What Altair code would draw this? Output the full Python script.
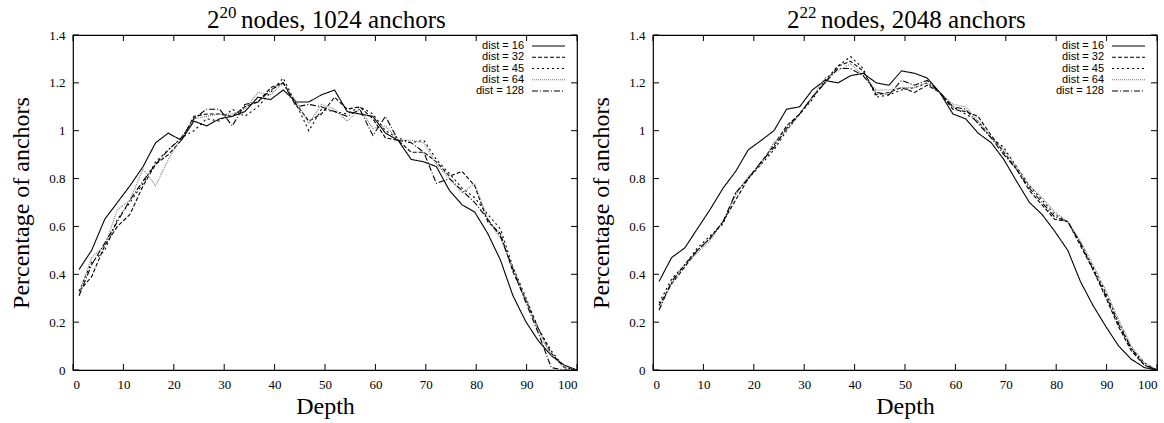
import altair as alt
import pandas as pd

# ---------------- data ----------------
depth = [1.2, 3.7, 6.3, 8.8, 11.3, 13.9, 16.4, 18.9, 21.5, 24.0,
         26.5, 29.1, 31.6, 34.1, 36.7, 39.2, 41.7, 44.3, 46.8, 49.3,
         51.9, 54.4, 56.9, 59.5, 62.0, 64.5, 67.1, 69.6, 72.1, 74.7,
         77.2, 79.7, 82.3, 84.8, 87.3, 89.9, 92.4, 94.9, 97.5, 100.0]

series_names = ["dist = 16", "dist = 32", "dist = 45", "dist = 64", "dist = 128"]

# left panel: 2^20 nodes, 1024 anchors
a_16 = [0.42, 0.50, 0.63, 0.70, 0.77, 0.85, 0.95, 0.99, 0.96, 1.04,
        1.02, 1.05, 1.06, 1.08, 1.14, 1.13, 1.17, 1.12, 1.12, 1.15,
        1.17, 1.08, 1.07, 1.06, 0.99, 0.96, 0.88, 0.87, 0.85, 0.75,
        0.69, 0.66, 0.57, 0.46, 0.31, 0.20, 0.12, 0.06, 0.02, 0.00]
a_32 = [0.33, 0.39, 0.52, 0.60, 0.65, 0.77, 0.86, 0.90, 0.96, 1.06,
        1.07, 1.07, 1.06, 1.10, 1.12, 1.18, 1.20, 1.11, 1.04, 1.07,
        1.14, 1.09, 1.10, 1.05, 0.97, 0.96, 0.91, 0.91, 0.87, 0.81,
        0.83, 0.77, 0.62, 0.57, 0.41, 0.29, 0.17, 0.07, 0.01, 0.00]
a_45 = [0.33, 0.45, 0.50, 0.63, 0.70, 0.78, 0.87, 0.92, 0.97, 1.00,
        1.05, 1.04, 1.09, 1.06, 1.10, 1.16, 1.22, 1.11, 1.00, 1.09,
        1.08, 1.07, 1.10, 1.07, 1.00, 0.97, 0.95, 0.96, 0.88, 0.82,
        0.76, 0.72, 0.65, 0.59, 0.43, 0.30, 0.17, 0.08, 0.01, 0.00]
a_64 = [0.32, 0.47, 0.52, 0.67, 0.71, 0.84, 0.77, 0.88, 0.97, 1.05,
        1.06, 1.07, 1.07, 1.09, 1.16, 1.15, 1.20, 1.12, 1.03, 1.11,
        1.09, 1.04, 1.09, 1.01, 1.02, 0.96, 0.96, 0.95, 0.86, 0.80,
        0.74, 0.78, 0.63, 0.55, 0.43, 0.29, 0.16, 0.06, 0.01, 0.00]
a_128 = [0.31, 0.44, 0.53, 0.62, 0.71, 0.79, 0.86, 0.92, 0.97, 1.05,
         1.09, 1.09, 1.02, 1.11, 1.12, 1.17, 1.20, 1.10, 1.11, 1.10,
         1.08, 1.06, 1.09, 0.98, 1.06, 0.96, 0.95, 0.91, 0.78, 0.80,
         0.75, 0.70, 0.63, 0.56, 0.42, 0.28, 0.15, 0.01, 0.00, 0.00]

# right panel: 2^22 nodes, 2048 anchors
b_16 = [0.37, 0.47, 0.51, 0.59, 0.67, 0.76, 0.83, 0.92, 0.96, 1.00,
        1.09, 1.10, 1.17, 1.21, 1.20, 1.23, 1.24, 1.20, 1.19, 1.25,
        1.24, 1.22, 1.16, 1.07, 1.05, 0.99, 0.95, 0.88, 0.79, 0.70,
        0.65, 0.58, 0.50, 0.37, 0.27, 0.18, 0.10, 0.045, 0.01, 0.00]
b_32 = [0.27, 0.36, 0.43, 0.50, 0.55, 0.62, 0.71, 0.80, 0.87, 0.94,
        1.02, 1.07, 1.14, 1.20, 1.27, 1.29, 1.25, 1.15, 1.16, 1.18,
        1.16, 1.19, 1.16, 1.09, 1.08, 1.06, 0.98, 0.91, 0.84, 0.75,
        0.69, 0.63, 0.62, 0.52, 0.42, 0.30, 0.18, 0.08, 0.02, 0.00]
b_45 = [0.28, 0.38, 0.44, 0.51, 0.56, 0.61, 0.74, 0.80, 0.86, 0.92,
        1.00, 1.07, 1.13, 1.21, 1.27, 1.31, 1.26, 1.14, 1.15, 1.17,
        1.18, 1.20, 1.16, 1.10, 1.07, 1.04, 0.97, 0.93, 0.85, 0.77,
        0.71, 0.65, 0.62, 0.53, 0.43, 0.32, 0.20, 0.09, 0.03, 0.00]
b_64 = [0.26, 0.36, 0.44, 0.49, 0.54, 0.62, 0.73, 0.81, 0.86, 0.95,
        1.00, 1.07, 1.14, 1.22, 1.25, 1.28, 1.23, 1.17, 1.17, 1.18,
        1.18, 1.20, 1.16, 1.11, 1.10, 1.04, 0.97, 0.92, 0.85, 0.77,
        0.72, 0.66, 0.62, 0.54, 0.44, 0.33, 0.21, 0.10, 0.03, 0.00]
b_128 = [0.25, 0.37, 0.44, 0.50, 0.55, 0.62, 0.74, 0.80, 0.87, 0.93,
         1.01, 1.07, 1.14, 1.20, 1.26, 1.26, 1.23, 1.16, 1.15, 1.21,
         1.19, 1.21, 1.16, 1.10, 1.09, 1.03, 0.97, 0.90, 0.84, 0.76,
         0.70, 0.64, 0.62, 0.53, 0.42, 0.31, 0.19, 0.09, 0.02, 0.00]

x_ticks = [0, 10, 20, 30, 40, 50, 60, 70, 80, 90, 100]
y_ticks = [0, 0.2, 0.4, 0.6, 0.8, 1, 1.2, 1.4]

# titles: base, exponent, rest
title_a = ["2", "20", "nodes, 1024 anchors"]
title_b = ["2", "22", "nodes, 2048 anchors"]

# ---------------- styling ----------------
W, H = 504, 335
SERIF = "Liberation Serif"
SANS = "Liberation Sans"
dashes = [[1, 0], [4, 2], [2, 3], [1, 1], [6, 2, 1, 2]]
colors = ["#000000", "#000000", "#000000", "#777777", "#000000"]

dash_scale = alt.Scale(domain=series_names, range=dashes)
color_scale = alt.Scale(domain=series_names, range=colors)
x_scale = alt.Scale(domain=[0, 100], nice=False, zero=False)
y_scale = alt.Scale(domain=[0, 1.4], nice=False)


def make_df(cols):
    rows = []
    for name, vals in zip(series_names, cols):
        for d, v in zip(depth, vals):
            rows.append({"depth": d, "pct": v, "series": name})
    return pd.DataFrame(rows)


xt_df = pd.DataFrame({"depth": x_ticks})
yt_df = pd.DataFrame({"pct": y_ticks})
leg_df = pd.DataFrame({"series": series_names})

TFS = 25  # title font size


def panel(cols, tparts):
    df = make_df(cols)
    lines = alt.Chart(df).mark_line(strokeWidth=1.1, clip=True).encode(
        x=alt.X("depth:Q", scale=x_scale,
                axis=alt.Axis(values=x_ticks, title="Depth", format="d",
                              labelPadding=8, titlePadding=3)),
        y=alt.Y("pct:Q", scale=y_scale,
                axis=alt.Axis(values=y_ticks, title="Percentage of anchors",
                              format="~g", labelPadding=8, titlePadding=15)),
        strokeDash=alt.StrokeDash("series:N", scale=dash_scale, legend=None),
        color=alt.Color("series:N", scale=color_scale, legend=None),
        detail="series:N",
    )
    tb = alt.Chart(xt_df).mark_rule(color="black", strokeWidth=1).encode(
        x=alt.X("depth:Q", scale=x_scale),
        y=alt.value(H), y2=alt.value(H - 6))
    tt = alt.Chart(xt_df).mark_rule(color="black", strokeWidth=1).encode(
        x=alt.X("depth:Q", scale=x_scale),
        y=alt.value(0), y2=alt.value(6))
    tl = alt.Chart(yt_df).mark_rule(color="black", strokeWidth=1).encode(
        y=alt.Y("pct:Q", scale=y_scale),
        x=alt.value(0), x2=alt.value(6))
    tr = alt.Chart(yt_df).mark_rule(color="black", strokeWidth=1).encode(
        y=alt.Y("pct:Q", scale=y_scale),
        x=alt.value(W), x2=alt.value(W - 6))

    # title built from text pieces (base + superscript exponent + rest)
    tdf = pd.DataFrame({"base": [tparts[0]], "exp": [tparts[1]], "rest": [tparts[2]]})
    x0 = W / 2 - 118
    t1 = alt.Chart(tdf).mark_text(align="left", baseline="alphabetic", font=SERIF,
                                  fontSize=TFS, color="black").encode(
        x=alt.value(x0), y=alt.value(-7), text="base:N")
    t2 = alt.Chart(tdf).mark_text(align="left", baseline="alphabetic", font=SERIF,
                                  fontSize=17, color="black").encode(
        x=alt.value(x0 + 12.5), y=alt.value(-17), text="exp:N")
    t3 = alt.Chart(tdf).mark_text(align="left", baseline="alphabetic", font=SERIF,
                                  fontSize=TFS, color="black").encode(
        x=alt.value(x0 + 34), y=alt.value(-7), text="rest:N")

    leg_y = alt.Y("series:N", scale=alt.Scale(type="point", domain=series_names,
                                             range=[11, 56], padding=0), axis=None)
    leg_text = alt.Chart(leg_df).mark_text(
        align="right", baseline="middle", font=SANS, fontSize=11, color="black"
    ).encode(x=alt.value(W - 53), y=leg_y, text="series:N")
    leg_line = alt.Chart(leg_df).mark_rule(strokeWidth=1.1).encode(
        x=alt.value(W - 45), x2=alt.value(W - 12), y=leg_y,
        strokeDash=alt.StrokeDash("series:N", scale=dash_scale, legend=None),
        color=alt.Color("series:N", scale=color_scale, legend=None))

    main = alt.layer(lines, tb, tt, tl, tr, t1, t2, t3)
    leg = alt.layer(leg_text, leg_line)
    return alt.layer(main, leg).resolve_scale(y="independent").properties(
        width=W, height=H)


chart = alt.hconcat(
    panel([a_16, a_32, a_45, a_64, a_128], title_a),
    panel([b_16, b_32, b_45, b_64, b_128], title_b),
    spacing=76, bounds="flush",
).properties(
    padding={"left": 9, "top": 3, "right": 0, "bottom": 0},
    background="white",
).configure_view(
    stroke="black", strokeWidth=1.2
).configure_axis(
    domain=False, ticks=False, grid=False,
    labelFont=SERIF, labelFontSize=13, labelColor="black",
    titleFont=SERIF, titleFontSize=24, titleFontWeight="normal", titleColor="black",
)

chart.save("out.html", embed_options={"renderer": "svg", "actions": False})
